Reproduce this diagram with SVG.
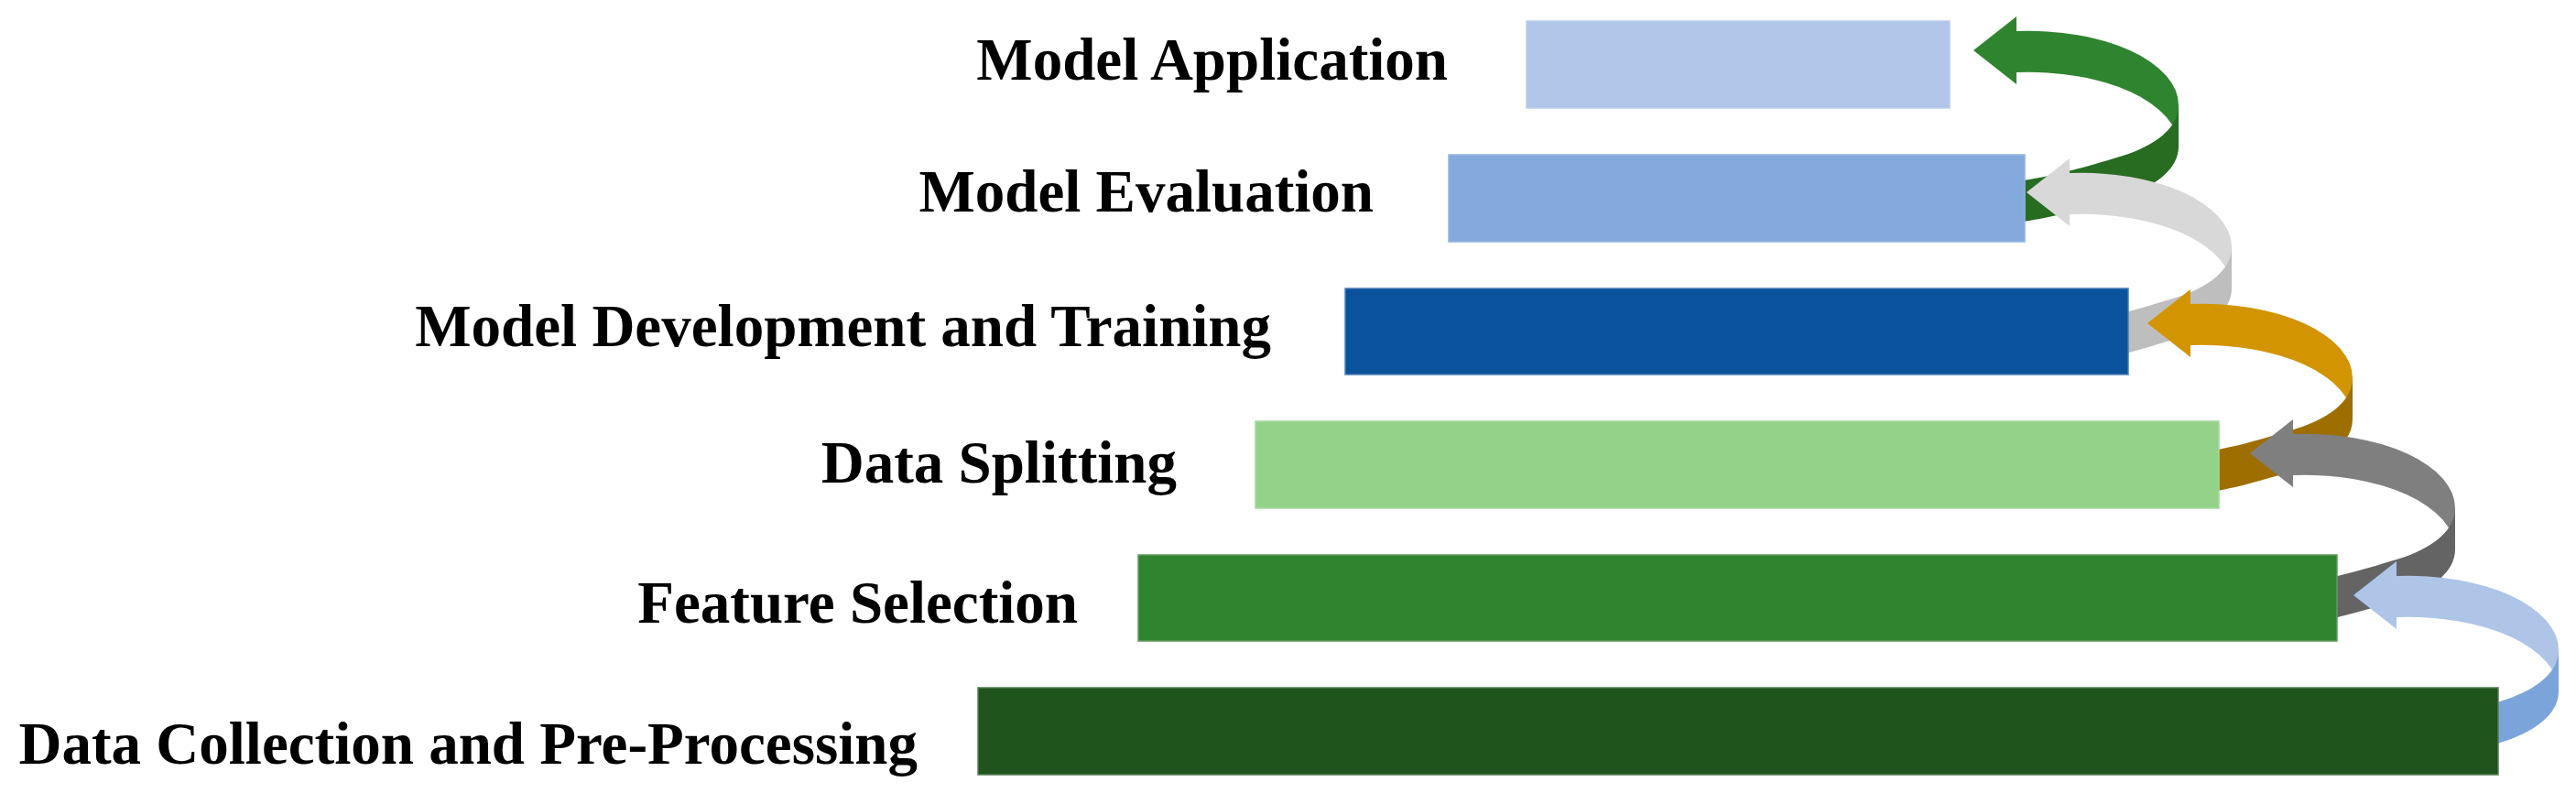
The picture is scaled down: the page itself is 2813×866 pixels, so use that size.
<svg xmlns="http://www.w3.org/2000/svg" width="2813" height="866" viewBox="0 0 2813 866">
  <defs>
    <style>
      .lbl { font-family: "Liberation Serif", "Times New Roman", serif; font-weight: bold; font-size: 65px; fill: #000; text-anchor: end; }
      .bar { stroke-width: 1.5; }
    </style>
    <path id="arrowBack" d="M0,0 L47,-37 L47,-21 A164 81 0 0 1 224 60 L224,105 A164 81 0 0 0 47 24 L47,37 Z"/>
    <path id="arrowFront" d="M224,60 C224,84 200,104 160,116 C130,125 90,138 30,146 L30,191 C90,183 130,170 160,161 C200,149 224,129 224,105 Z"/>
  </defs>
  <rect width="2813" height="866" fill="#ffffff"/>

  <g id="connectors">
    <g id="arrow-5" transform="translate(2155,55)">
      <use href="#arrowBack" fill="#2F8430"/>
      <use href="#arrowFront" fill="#286C22"/>
    </g>
    <g id="arrow-4" transform="translate(2213,210)">
      <use href="#arrowBack" fill="#D8D8D8"/>
      <use href="#arrowFront" fill="#BEBEBE"/>
    </g>
    <g id="arrow-3" transform="translate(2345,353)">
      <use href="#arrowBack" fill="#D29400"/>
      <use href="#arrowFront" fill="#9E6E00"/>
    </g>
    <g id="arrow-2" transform="translate(2457,495)">
      <use href="#arrowBack" fill="#7F7F7F"/>
      <use href="#arrowFront" fill="#646464"/>
    </g>
    <g id="arrow-1" transform="translate(2570,650)">
      <use href="#arrowBack" fill="#AEC5E8"/>
      <use href="#arrowFront" fill="#7BA4DA"/>
    </g>
  </g>

  <g id="node-model-application">
    <rect class="bar" x="1667" y="23" width="462" height="95" fill="#B1C6E8" stroke="#BCCFEC"/>
    <text class="lbl" x="1581" y="87">Model Application</text>
  </g>
  <g id="node-model-evaluation">
    <rect class="bar" x="1582" y="169" width="629" height="95" fill="#84AADD" stroke="#93B4E1"/>
    <text class="lbl" x="1500" y="231">Model Evaluation</text>
  </g>
  <g id="node-model-development">
    <rect class="bar" x="1469" y="315" width="855" height="94" fill="#0A529C" stroke="#4C7DB5"/>
    <text class="lbl" x="1388" y="378">Model Development and Training</text>
  </g>
  <g id="node-data-splitting">
    <rect class="bar" x="1371" y="460" width="1052" height="95" fill="#94D28A" stroke="#A6D99E"/>
    <text class="lbl" x="1285" y="527">Data Splitting</text>
  </g>
  <g id="node-feature-selection">
    <rect class="bar" x="1243" y="606" width="1309" height="94" fill="#30832E" stroke="#5E9C5B"/>
    <text class="lbl" x="1177" y="680">Feature Selection</text>
  </g>
  <g id="node-data-collection">
    <rect class="bar" x="1068" y="751" width="1660" height="95" fill="#1F541D" stroke="#5A7D58"/>
    <text class="lbl" x="1002" y="834">Data Collection and Pre-Processing</text>
  </g>
</svg>
